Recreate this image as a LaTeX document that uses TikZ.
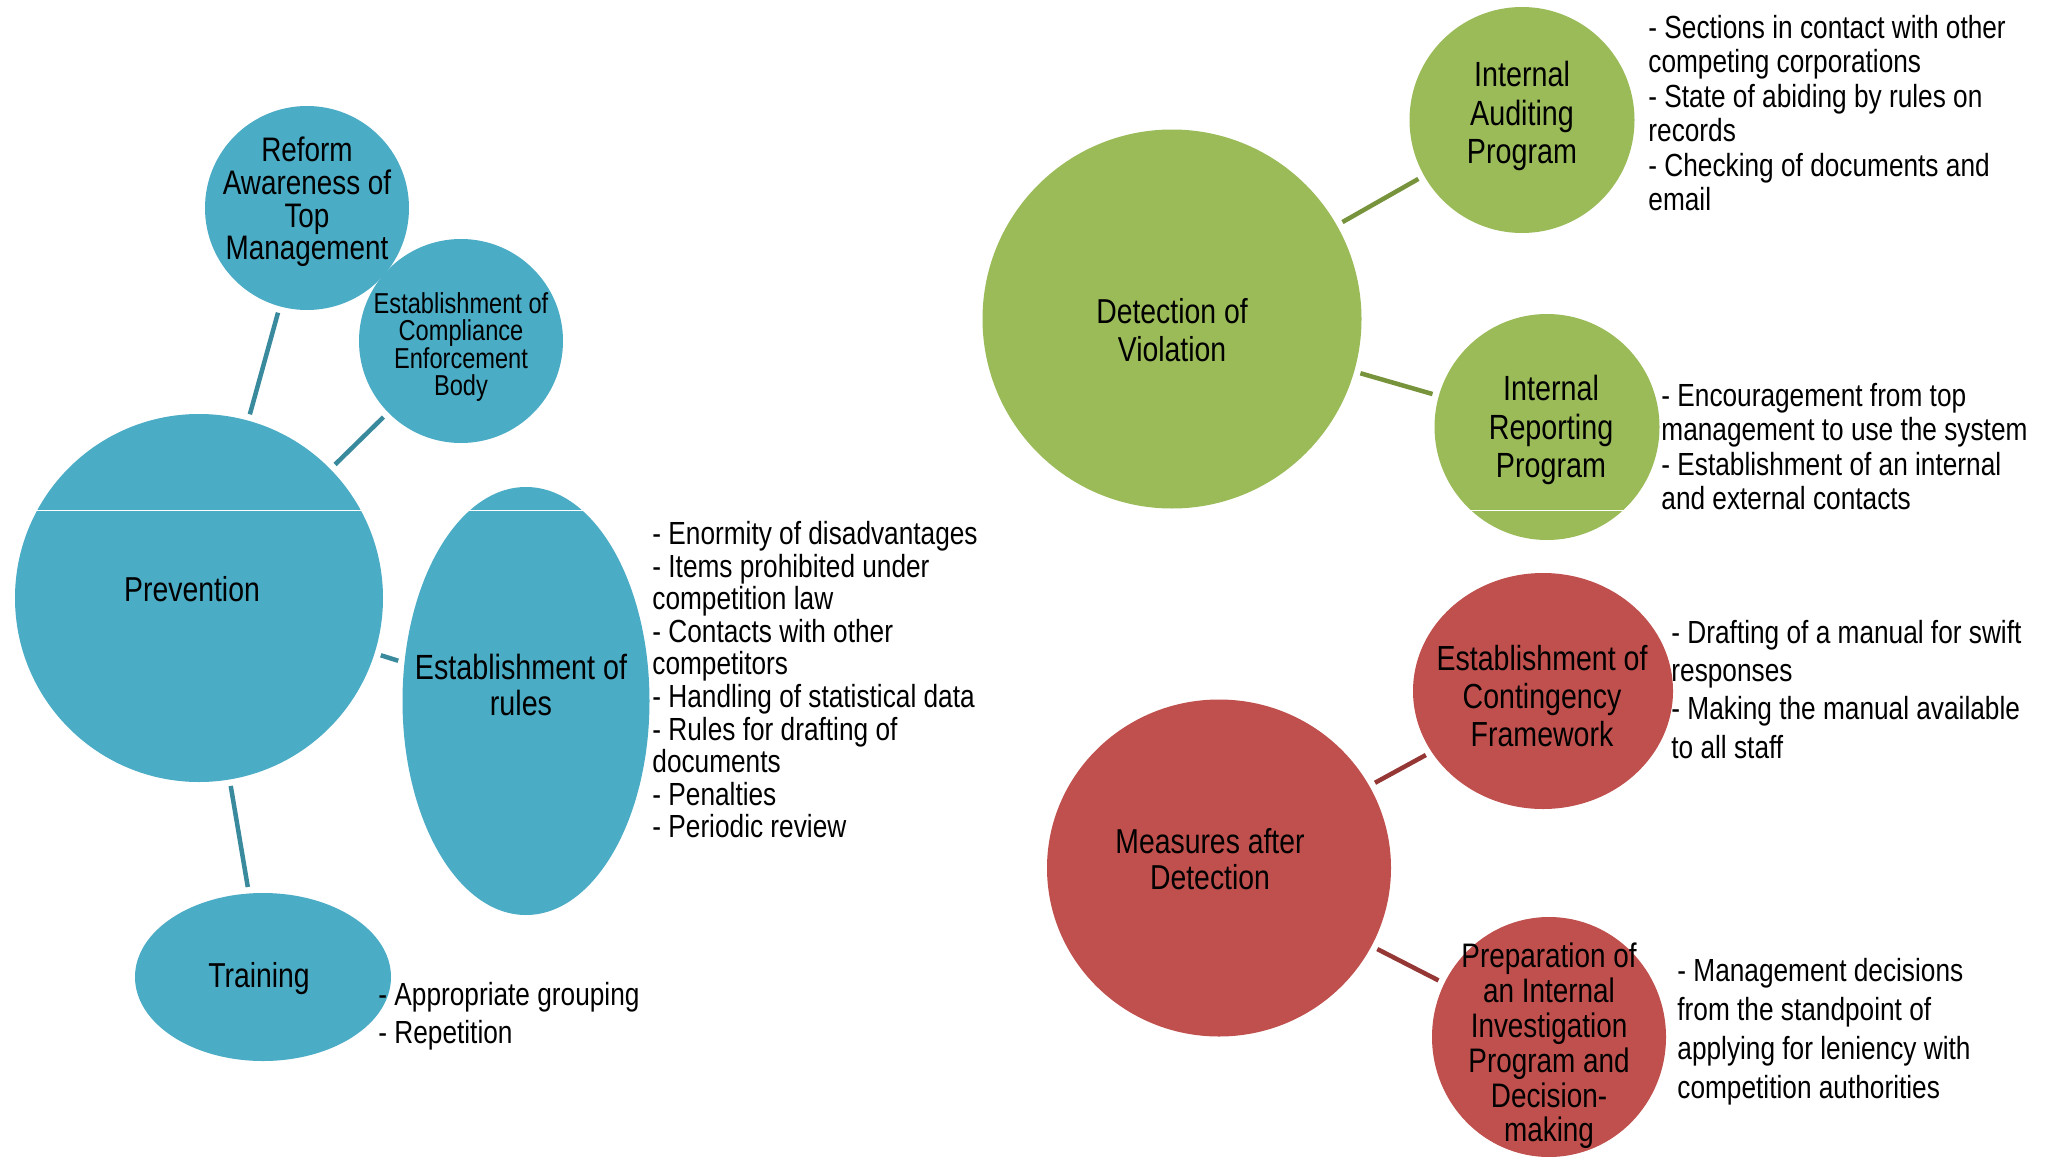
\documentclass[tikz,border=0pt]{standalone}
\usepackage{fontspec}
\setmainfont{Liberation Sans}[FakeStretch=0.82]
\usetikzlibrary{shapes.geometric}
\definecolor{cBlue}{HTML}{4BACC6}
\definecolor{cGreen}{HTML}{9BBB59}
\definecolor{cRed}{HTML}{C0504D}
\definecolor{lBlue}{HTML}{3A8A9E}
\definecolor{lGreen}{HTML}{77933C}
\definecolor{lRed}{HTML}{953735}
\begin{document}
\begin{tikzpicture}[x=0.5pt,y=-0.5pt,
  bub/.style={ellipse, draw=none, inner sep=0pt, outer sep=0pt},
  title/.style={align=center, inner sep=0pt, text=black},
  bullets/.style={align=left, inner sep=0pt, anchor=north west, text=black},
  link/.style={line width=2.25pt, shorten <=3.3pt, shorten >=3.3pt}]
\useasboundingbox (0,0) rectangle (2049,1156);
\fill[white] (0,0) rectangle (2049,1156);

% ---------- Prevention group (blue)
\node[bub, fill=cBlue, minimum width=184pt, minimum height=184pt] (prev) at (199,598) {};
\node[bub, fill=cBlue, minimum width=102pt, minimum height=102pt] (reform) at (307,208) {};
\node[bub, fill=cBlue, minimum width=102pt, minimum height=102pt] (comp) at (461,341) {};
\node[bub, fill=cBlue, minimum width=123.5pt, minimum height=214pt] (rules) at (526,701) {};
\node[bub, fill=cBlue, minimum width=128pt, minimum height=84pt] (train) at (263,977) {};

% ---------- Detection group (green)
\node[bub, fill=cGreen, minimum width=189.5pt, minimum height=189.5pt] (detect) at (1172,319) {};
\node[bub, fill=cGreen, minimum width=112.5pt, minimum height=113pt] (audit) at (1522,120) {};
\node[bub, fill=cGreen, minimum width=112.5pt, minimum height=113pt] (report) at (1547,427) {};

% ---------- Measures group (red)
\node[bub, fill=cRed, minimum width=172pt, minimum height=168.5pt] (measures) at (1219,868) {};
\node[bub, fill=cRed, minimum width=130pt, minimum height=118pt] (cont) at (1543,691) {};
\node[bub, fill=cRed, minimum width=117pt, minimum height=120pt] (prep) at (1549,1037) {};

% thin white scan line
\draw[white, line width=0.5pt] (0,510) -- (2049,510);

% ---------- connectors
\draw[link, lBlue] (reform) -- (prev);
\draw[link, lBlue] (comp) -- (prev);
\draw[link, lBlue] (prev) -- (rules);
\draw[link, lBlue] (prev) -- (train);
\draw[link, lGreen] (detect) -- (audit);
\draw[link, lGreen] (detect) -- (report);
\draw[link, lRed] (measures) -- (cont);
\draw[link, lRed] (measures) -- (prep);

% ---------- titles
\node[title, font=\fontsize{17}{16.3}\selectfont] (reformT) at (307,202) {Reform\\Awareness of\\Top\\Management};
\node[title, font=\fontsize{14.4}{13.7}\selectfont] (compT) at (461,347) {Establishment of\\Compliance\\Enforcement\\Body};
\node[title, font=\fontsize{17.3}{18}\selectfont] (prevT) at (192,589) {Prevention};
\node[title, font=\fontsize{17.5}{18.3}\selectfont] (rulesT) at (521,685) {Establishment of\\rules};
\node[title, font=\fontsize{17.3}{18}\selectfont] (trainT) at (259,979) {Training};
\node[title, font=\fontsize{17.3}{19}\selectfont] (detectT) at (1172,330) {Detection of\\Violation};
\node[title, font=\fontsize{17.5}{19.3}\selectfont] (auditT) at (1522,116) {Internal\\Auditing\\Program};
\node[title, font=\fontsize{17.5}{19.3}\selectfont] (reportT) at (1551,430) {Internal\\Reporting\\Program};
\node[title, font=\fontsize{17.3}{18.3}\selectfont] (measuresT) at (1210,859) {Measures after\\Detection};
\node[title, font=\fontsize{17.4}{19}\selectfont] (contT) at (1542,696) {Establishment of\\Contingency\\Framework};
\node[title, font=\fontsize{17}{17.4}\selectfont] (prepT) at (1549,1046) {Preparation of\\an Internal\\Investigation\\Program and\\Decision-\\making};

% ---------- bullet lists
\node[bullets, font=\fontsize{16}{16.3}\selectfont] (rulesB) at (652,521) {- Enormity of disadvantages\\- Items prohibited under\\competition law\\- Contacts with other\\competitors\\- Handling of statistical data\\- Rules for drafting of\\documents\\- Penalties\\- Periodic review};
\node[bullets, font=\fontsize{16}{19}\selectfont] (trainB) at (378,982) {- Appropriate grouping\\- Repetition};
\node[bullets, font=\fontsize{16}{17.2}\selectfont] (auditB) at (1648,15) {- Sections in contact with other\\competing corporations\\- State of abiding by rules on\\records\\- Checking of documents and\\email};
\node[bullets, font=\fontsize{16}{17.2}\selectfont] (reportB) at (1661,383) {- Encouragement from top\\management to use the system\\- Establishment of an internal\\and external contacts};
\node[bullets, font=\fontsize{16}{19.1}\selectfont] (contB) at (1671,620) {- Drafting of a manual for swift\\responses\\- Making the manual available\\to all staff};
\node[bullets, font=\fontsize{16}{19.4}\selectfont] (prepB) at (1677,958) {- Management decisions\\from the standpoint of\\applying for leniency with\\competition authorities};
\end{tikzpicture}
\end{document}
